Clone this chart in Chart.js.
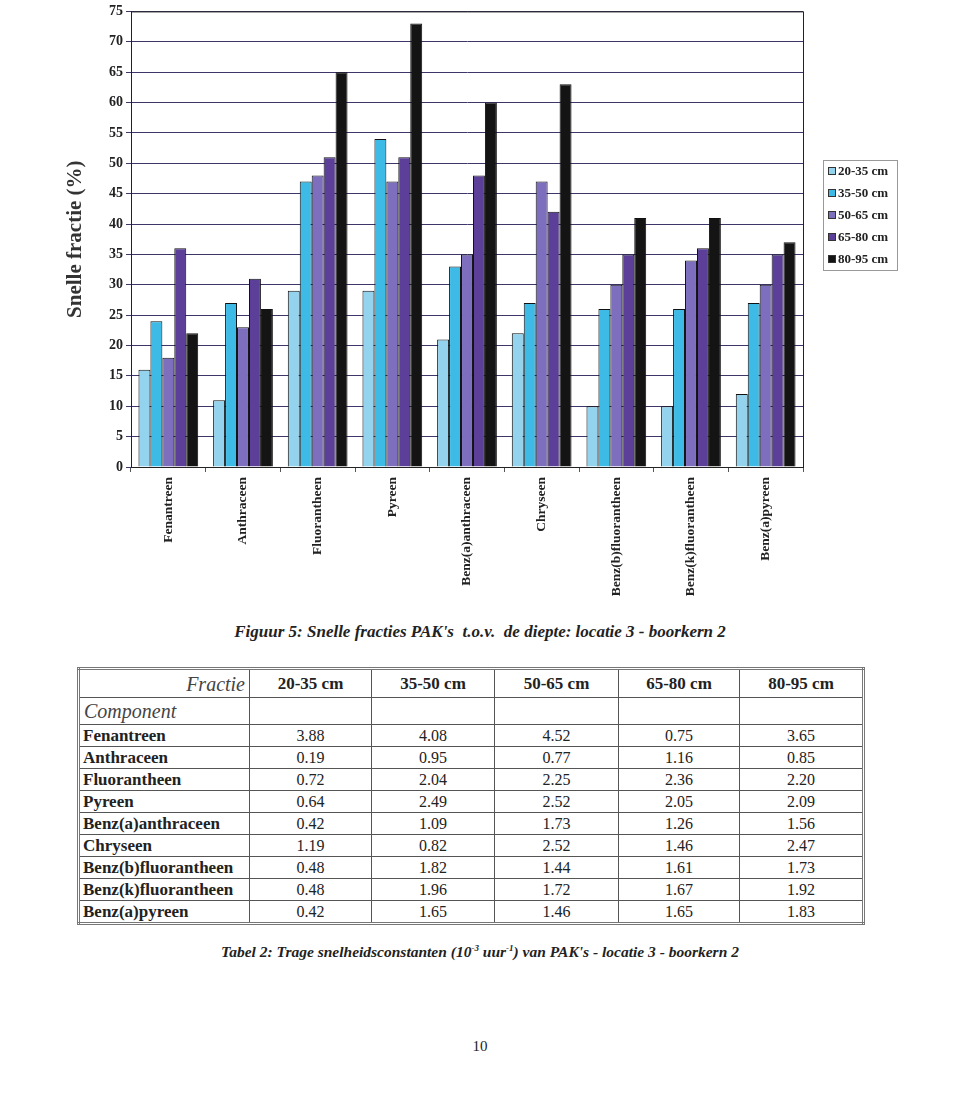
<!DOCTYPE html>
<html>
<head>
<meta charset="utf-8">
<script src="https://cdn.jsdelivr.net/npm/chart.js@4"></script>
<style>
    body { margin: 0; background: #fff; font-family: "Liberation Serif", serif; color: #222; }
    #page { position: relative; width: 960px; height: 1117px; }
    #chartBox { position: absolute; left: 0; top: 0; width: 960px; height: 610px; }
    .cap { position: absolute; left: 0; width: 960px; text-align: center; font-weight: bold; font-style: italic; }
    #tbl { position: absolute; left: 77px; top: 667px; border-collapse: collapse; border: 3px double #777;
           table-layout: fixed; font-size: 16px; line-height: 1; }
    #tbl td { border: 1px solid #555; padding: 0 4px; height: 21px; text-align: center; white-space: nowrap; overflow: hidden; }
    #tbl td.lbl { text-align: left; font-weight: bold; font-size: 17px; padding-left: 3px; }
    #tbl tr.hd td { height: 27px; font-weight: bold; font-size: 17px; }
    #tbl tr.cp td { height: 26px; }
    #tbl tr td.it { font-style: italic; font-weight: normal; font-size: 20px; color: #444; }
    #pnum { position: absolute; left: 0; width: 960px; top: 1038px; text-align: center; font-size: 15px; }
</style>
</head>
<body>
<div id="page">
    <div id="chartBox"><canvas id="snelleChart" width="960" height="610"></canvas></div>
    <div class="cap" style="top:622px; font-size:17px">Figuur 5: Snelle fracties PAK's&nbsp; t.o.v.&nbsp; de diepte: locatie 3 - boorkern 2</div>
    <table id="tbl"></table>
    <div class="cap" style="top:943px; font-size:15.5px">Tabel 2: Trage snelheidsconstanten (10<sup style="font-size:9px">-3</sup> uur<sup style="font-size:9px">-1</sup>) van PAK's - locatie 3 - boorkern 2</div>
    <div id="pnum">10</div>
</div>
<script>
    var components = ['Fenantreen', 'Anthraceen', 'Fluorantheen', 'Pyreen', 'Benz(a)anthraceen',
        'Chryseen', 'Benz(b)fluorantheen', 'Benz(k)fluorantheen', 'Benz(a)pyreen'];
    var depths = ['20-35 cm', '35-50 cm', '50-65 cm', '65-80 cm', '80-95 cm'];

    // snelle fractie (%) per diepte
    var d20_35 = [16, 11, 29, 29, 21, 22, 10, 10, 12];
    var d35_50 = [24, 27, 47, 54, 33, 27, 26, 26, 27];
    var d50_65 = [18, 23, 48, 47, 35, 47, 30, 34, 30];
    var d65_80 = [36, 31, 51, 51, 48, 42, 35, 36, 35];
    var d80_95 = [22, 26, 65, 73, 60, 63, 41, 41, 37];

    var barColors = ['#93d3ee', '#3dbbe6', '#7d6fbe', '#5b3f99', '#141414'];

    // tabel 2: trage snelheidsconstanten
    var k20_35 = ['3.88', '0.19', '0.72', '0.64', '0.42', '1.19', '0.48', '0.48', '0.42'];
    var k35_50 = ['4.08', '0.95', '2.04', '2.49', '1.09', '0.82', '1.82', '1.96', '1.65'];
    var k50_65 = ['4.52', '0.77', '2.25', '2.52', '1.73', '2.52', '1.44', '1.72', '1.46'];
    var k65_80 = ['0.75', '1.16', '2.36', '2.05', '1.26', '1.46', '1.61', '1.67', '1.65'];
    var k80_95 = ['3.65', '0.85', '2.20', '2.09', '1.56', '2.47', '1.73', '1.92', '1.83'];

    var series = [d20_35, d35_50, d50_65, d65_80, d80_95];
    var datasets = series.map(function(vals, i) {
        return {
            label: depths[i],
            data: vals,
            backgroundColor: barColors[i],
            borderColor: '#111',
            borderWidth: 1,
            categoryPercentage: 0.8,
            barPercentage: 1.0
        };
    });

    // frame round the plot area + boxed legend on the right
    var frameAndLegend = {
        id: 'frameAndLegend',
        afterDraw: function(chart) {
            var ctx = chart.ctx, a = chart.chartArea;
            ctx.save();
            ctx.strokeStyle = '#222';
            ctx.lineWidth = 1;
            ctx.strokeRect(a.left + 0.5, a.top + 0.5, a.right - a.left, a.bottom - a.top);

            ctx.strokeStyle = '#999';
            ctx.strokeRect(823.5, 160.5, 74, 110);
            ctx.font = 'bold 13px "Liberation Serif"';
            ctx.textBaseline = 'middle';
            chart.data.datasets.forEach(function(ds, i) {
                var y = 171 + i * 22;
                ctx.fillStyle = ds.backgroundColor;
                ctx.fillRect(828, y - 4, 8, 8);
                ctx.strokeStyle = '#333';
                ctx.strokeRect(828.5, y - 3.5, 7, 7);
                ctx.fillStyle = '#222';
                ctx.fillText(ds.label, 838, y + 1);
            });
            ctx.restore();
        }
    };

    new Chart(document.getElementById('snelleChart'), {
        type: 'bar',
        data: { labels: components, datasets: datasets },
        plugins: [frameAndLegend],
        options: {
            responsive: false,
            animation: false,
            devicePixelRatio: 1,
            layout: { padding: { top: 10, right: 157, left: 0, bottom: 0 } },
            plugins: { legend: { display: false }, tooltip: { enabled: false } },
            scales: {
                x: {
                    grid: { display: true, drawOnChartArea: false, drawTicks: true, tickLength: 5, color: '#555', offset: true },
                    border: { color: '#222' },
                    ticks: {
                        maxRotation: 90, minRotation: 90, padding: 5, color: '#222',
                        font: { family: 'Liberation Serif', size: 13.5, weight: 'bold' }
                    },
                    afterFit: function(s) { s.height = 610 - 467; }
                },
                y: {
                    min: 0, max: 75,
                    grid: { color: '#3d3668', lineWidth: 1, tickLength: 5 },
                    border: { color: '#222' },
                    ticks: {
                        stepSize: 5, padding: 3, color: '#222',
                        font: { family: 'Liberation Serif', size: 14, weight: 'bold' }
                    },
                    title: {
                        display: true, text: 'Snelle fractie (%)', color: '#333',
                        font: { family: 'Liberation Serif', size: 21, weight: 'bold' },
                        padding: { top: 63, bottom: 0 }
                    },
                    afterFit: function(s) { s.width = 131; }
                }
            }
        }
    });

    // build the table from the arrays
    var tbl = document.getElementById('tbl');
    var colW = [171, 122, 123, 124, 121, 124];
    var html = '<colgroup>';
    colW.forEach(function(w) { html += '<col style="width:' + w + 'px">'; });
    html += '</colgroup><tr class="hd"><td class="it" style="text-align:right">Fractie</td>';
    depths.forEach(function(d) { html += '<td>' + d + '</td>'; });
    html += '</tr><tr class="cp"><td class="it" style="text-align:left">Component</td><td></td><td></td><td></td><td></td><td></td></tr>';
    var cols = [k20_35, k35_50, k50_65, k65_80, k80_95];
    components.forEach(function(c, r) {
        html += '<tr><td class="lbl">' + c + '</td>';
        cols.forEach(function(col) { html += '<td>' + col[r] + '</td>'; });
        html += '</tr>';
    });
    tbl.innerHTML = html;
</script>
</body>
</html>
